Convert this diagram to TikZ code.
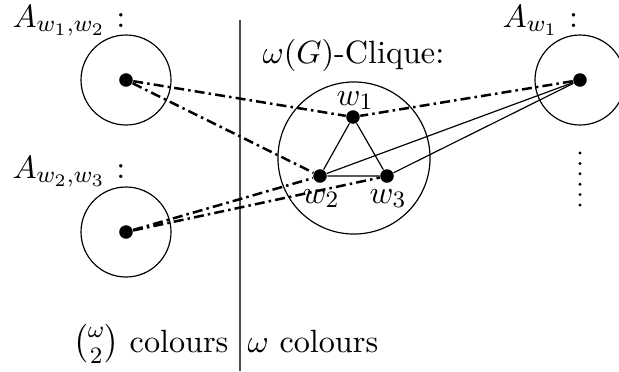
\documentclass[tikz,border=0pt]{standalone}
\usepackage{amsmath}
\begin{document}
\begin{tikzpicture}[x=0.34pt,y=-0.34pt,
  every node/.style={font=\fontsize{10.95}{13}\selectfont},
  dot/.style={circle,fill=black,inner sep=0pt,minimum size=4.6pt},
  smalldot/.style={circle,fill=black,inner sep=0pt,minimum size=1.1pt},
  region/.style={circle,draw,line width=0.4pt,inner sep=0pt,minimum size=30.6pt},
  bigregion/.style={circle,draw,line width=0.4pt,inner sep=0pt,minimum size=51.7pt},
  dd/.style={line width=0.85pt,dash pattern=on 3.4pt off 1.4pt on 0.85pt off 1.4pt},
  solid edge/.style={line width=0.4pt},
  lbl/.style={inner sep=0pt,anchor=base west}]
\useasboundingbox (0,0) rectangle (619,371);
% separator
\coordinate (st) at (240,20);
\coordinate (sb) at (240,371);
\draw[line width=0.5pt,black!70] (st) -- (sb);
% region circles
\node[region] (C1) at (126,80) {};
\node[region] (C2) at (126,232) {};
\node[region] (C3) at (580,80) {};
\node[bigregion] (CC) at (354,158) {};
% dots
\node[dot] (a) at (126,80) {};
\node[dot] (b) at (126,232) {};
\node[dot] (c) at (580,80) {};
\node[dot] (w1) at (353,117) {};
\node[dot] (w2) at (320,176) {};
\node[dot] (w3) at (387,176) {};
% labels
\node[lbl] (La) at (12,27) {$A_{w_1,w_2}$ :};
\node[lbl] (Lb) at (12,178) {$A_{w_2,w_3}$ :};
\node[lbl] (Lc) at (502,27) {$A_{w_1}$ :};
\node[lbl] (Lq) at (262,63) {$\omega(G)$-Clique:};
\node[lbl] (l1) at (336,105) {$w_1$};
\node[lbl] (l2) at (302,203) {$w_2$};
\node[lbl] (l3) at (369,203) {$w_3$};
\node[inner sep=0pt,anchor=base east] (bl) at (229,352) {$\binom{\omega}{2}$ colours};
\node[inner sep=0pt,anchor=base west] (br) at (247,352) {$\omega$ colours};
% vertical dots
\foreach \i in {0,...,5} {\node[smalldot] (v\i) at (580,153+10.4*\i) {};}
% triangle
\draw[solid edge] (w1) -- (w2) -- (w3) -- (w1);
% solid lines to right
\draw[solid edge] (c) -- (w2);
\draw[solid edge] (c) -- (w3);
% dash-dot lines
\draw[dd] (c) -- (w1);
\draw[dd] (a) -- (w1);
\draw[dd] (a) -- (w2);
\draw[dd] (b) -- (w2);
\draw[dd] (b) -- (w3);
\end{tikzpicture}
\end{document}
